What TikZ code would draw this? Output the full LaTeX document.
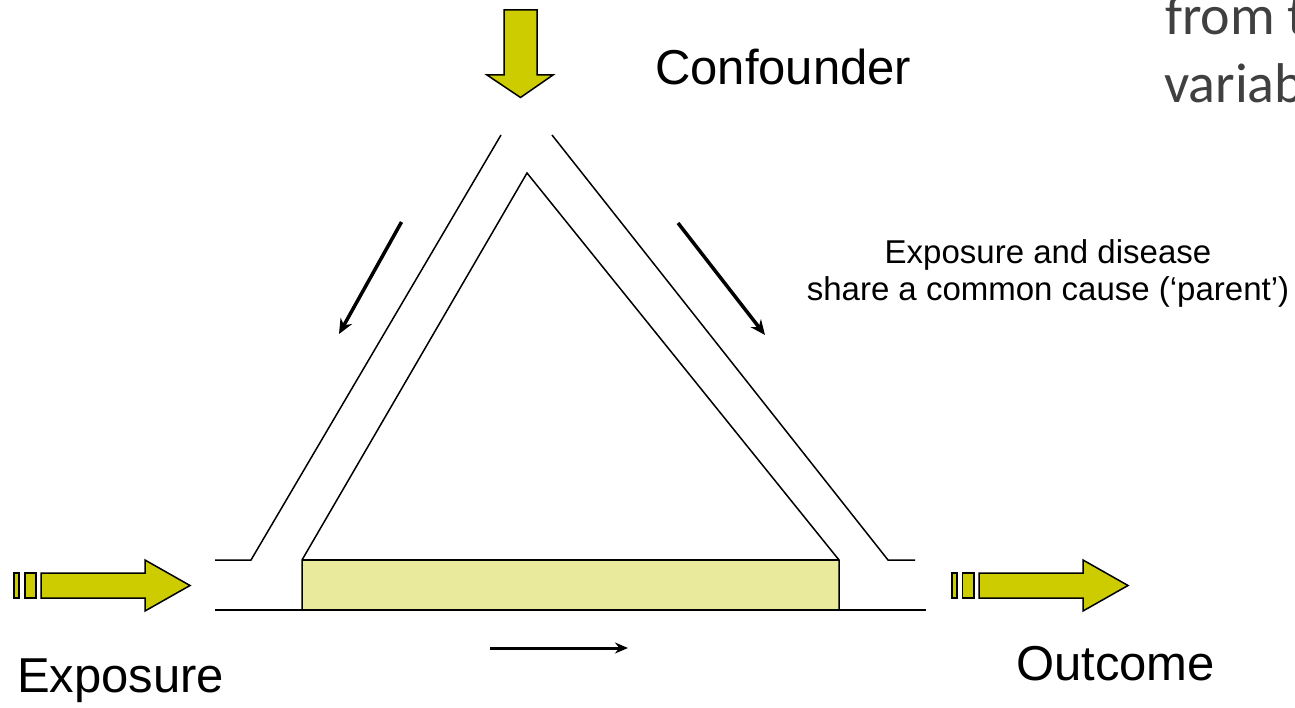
\documentclass[tikz,border=0pt]{standalone}
\usepackage{fontspec}
\setmainfont{Liberation Sans}
\newfontfamily\grayfont{Carlito}
\usetikzlibrary{arrows.meta}
\definecolor{olive}{RGB}{204,204,0}
\definecolor{paleyel}{RGB}{234,234,156}
\definecolor{txtgray}{RGB}{64,64,64}
\tikzset{
  blockarrow/.style={fill=olive,draw=black,line width=1.5pt,line join=miter},
  wall/.style={draw=black,line width=1.5pt},
  flow/.style={draw=black,line width=3.5pt,-{Stealth[length=15pt,width=13pt]}},
  biglabel/.style={anchor=base west,inner sep=0pt,font=\fontsize{49}{56}\selectfont},
}
\begin{document}
\begin{tikzpicture}[x=1pt,y=-1pt]
\useasboundingbox (0,0) rectangle (1295,708);
\clip (0,0) rectangle (1295,708);
% top block arrow
\draw[blockarrow] (504,10) -- (537,10) -- (537,75) -- (553,75) -- (520.5,97.5) -- (487,75) -- (504,75) -- cycle;
% left block arrow
\draw[blockarrow] (14,573) rectangle (19,598);
\draw[blockarrow] (25,573) rectangle (36,598);
\draw[blockarrow] (41,573) -- (145,573) -- (145,560) -- (190,585.5) -- (145,611) -- (145,598) -- (41,598) -- cycle;
% right block arrow
\draw[blockarrow] (952,573) rectangle (957,598);
\draw[blockarrow] (962.5,573) rectangle (974,598);
\draw[blockarrow] (979,573) -- (1083,573) -- (1083,560) -- (1128,585.5) -- (1083,611) -- (1083,598) -- (979,598) -- cycle;
% yellow box
\fill[paleyel] (302,560) rectangle (839,610);
% inner triangle and box edges
\draw[wall,line join=miter] (302,610) -- (302,560) -- (527,173) -- (839,560) -- (839,610);
\draw[wall] (302,560) -- (839,560);
% outer walls
\draw[wall] (501,135) -- (251,560) -- (215,560);
\draw[wall] (552,135) -- (888,560) -- (915,560);
% bottom line
\draw[draw=black,line width=2.8pt] (215,610) -- (926,610);
% small flow arrows
\coordinate (la1) at (401.5,222);
\coordinate (la2) at (339,334);
\coordinate (ra1) at (678,223);
\coordinate (ra2) at (765,335);
\coordinate (ba1) at (490,648);
\coordinate (ba2) at (628,648);
\draw[flow] (la1) -- (la2);
\draw[flow] (ra1) -- (ra2);
\draw[draw=black,line width=3pt,-{Stealth[length=13pt,width=11pt]}] (ba1) -- (ba2);
% labels
\node[biglabel] (conf) at (655,85) {Confounder};
\node[biglabel] (expo) at (17,692) {Exposure};
\node[biglabel] (outc) at (1016,680) {Outcome};
\node[anchor=base,inner sep=0pt,font=\fontsize{33}{37}\selectfont] (cap1) at (1048,264) {Exposure and disease};
\node[anchor=base,inner sep=0pt,font=\fontsize{33}{37}\selectfont] (cap2) at (1048,301) {share a common cause (‘parent’)};
\node[anchor=base west,inner sep=0pt,text=txtgray,font=\grayfont\fontsize{56}{66}\selectfont] (g1) at (1165,35) {from the};
\node[anchor=base west,inner sep=0pt,text=txtgray,font=\grayfont\fontsize{56}{66}\selectfont] (g2) at (1164,103) {variables};
\end{tikzpicture}
\end{document}
